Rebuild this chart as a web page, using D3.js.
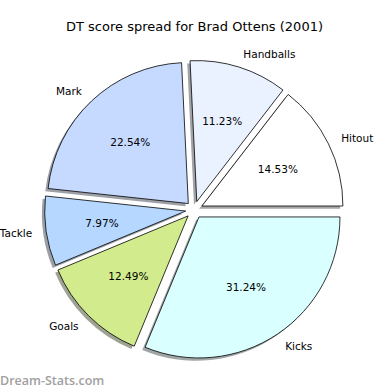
<!DOCTYPE html>
<html>
<head>
<meta charset="utf-8">
<script src="https://cdn.jsdelivr.net/npm/d3@7"></script>
<style>
  body { margin: 0; background: #fff; }
  svg { display: block; font-family: "DejaVu Sans", sans-serif; }
</style>
</head>
<body>
<svg id="chart"></svg>
<script>
// chart data
var categories = ["Hitout", "Handballs", "Mark", "Tackle", "Goals", "Kicks"];
var values = [14.53, 11.23, 22.54, 7.97, 12.49, 31.24];
var sliceColors = ["#ffffff", "#eaf1ff", "#c6d9ff", "#b6d7ff", "#d1eb8d", "#d9ffff"];

var width = 390,
    height = 390,
    radius = 141,
    explode = 8.6,
    cx = 194.2,
    cy = 209.8;

var data = categories.map(function(c, i) { return {label: c, value: values[i]}; });
var total = d3.sum(values);

var colors = d3.scaleOrdinal().domain(categories).range(sliceColors);

// matplotlib style: start at 3 o'clock, go counterclockwise
var pie = d3.pie()
    .sort(null)
    .startAngle(Math.PI / 2)
    .endAngle(Math.PI / 2 - 2 * Math.PI)
    .value(function(d) { return d.value; });

var arc = d3.arc().innerRadius(0).outerRadius(radius);

var svg = d3.select("#chart")
    .attr("width", width)
    .attr("height", height);

svg.append("rect").attr("width", width).attr("height", height).attr("fill", "#fff");

svg.append("text")
    .attr("x", 194.5)
    .attr("y", 26)
    .attr("text-anchor", "middle")
    .attr("dominant-baseline", "central")
    .style("font-size", "13px")
    .text("DT score spread for Brad Ottens (2001)");

var arcs = pie(data);

function mid(d) { return (d.startAngle + d.endAngle) / 2; }
function offset(d, dist) {
  var a = mid(d);
  return [cx + (explode + dist) * Math.sin(a), cy - (explode + dist) * Math.cos(a)];
}

var g = svg.append("g");

// shadows first
g.selectAll(".shadow")
    .data(arcs)
  .enter().append("path")
    .attr("class", "shadow")
    .attr("transform", function(d) {
      var p = offset(d, 0);
      return "translate(" + (p[0] - 2.8) + "," + (p[1] + 2.8) + ")";
    })
    .attr("d", arc)
    .attr("fill", function(d) {
      var c = d3.rgb(colors(d.data.label));
      return d3.rgb(c.r * 0.3, c.g * 0.3, c.b * 0.3).copy({opacity: 0.5});
    })
    .attr("stroke", "none");

g.selectAll(".slice")
    .data(arcs)
  .enter().append("path")
    .attr("class", "slice")
    .attr("transform", function(d) {
      var p = offset(d, 0);
      return "translate(" + p[0] + "," + p[1] + ")";
    })
    .attr("d", arc)
    .attr("fill", function(d) { return colors(d.data.label); })
    .attr("stroke", "#000")
    .attr("stroke-width", 0.8)
    .attr("stroke-linejoin", "round");

// category labels at 1.1 r
svg.selectAll(".label")
    .data(arcs)
  .enter().append("text")
    .attr("class", "label")
    .attr("x", function(d) { return offset(d, radius * 1.1)[0]; })
    .attr("y", function(d) { return offset(d, radius * 1.1)[1]; })
    .attr("text-anchor", function(d) { return Math.sin(mid(d)) > 0 ? "start" : "end"; })
    .attr("dominant-baseline", "central")
    .style("font-size", "10.5px")
    .text(function(d) { return d.data.label; });

// percentages at 0.6 r
svg.selectAll(".pct")
    .data(arcs)
  .enter().append("text")
    .attr("class", "pct")
    .attr("x", function(d) { return offset(d, radius * 0.6)[0]; })
    .attr("y", function(d) { return offset(d, radius * 0.6)[1]; })
    .attr("text-anchor", "middle")
    .attr("dominant-baseline", "central")
    .style("font-size", "10.5px")
    .text(function(d) { return (d.data.value / total * 100).toFixed(2) + "%"; });

svg.append("text")
    .attr("x", 0)
    .attr("y", 380)
    .attr("dominant-baseline", "central")
    .style("font-family", "'Open Sans', sans-serif")
    .style("font-size", "12.5px")
    .style("font-weight", "600")
    .attr("fill", "#a0a0a0")
    .text("Dream-Stats.com");
</script>
</body>
</html>
